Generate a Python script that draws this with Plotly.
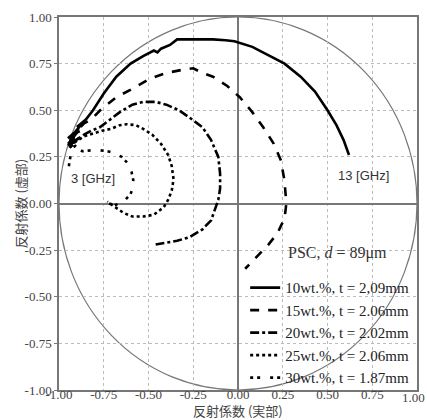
import plotly.graph_objects as go

# ---- data ----
labels = ["10wt.%, t = 2,09mm", "15wt.%, t = 2.06mm", "20wt.%, t = 2.02mm",
          "25wt.%, t = 2.06mm", "30wt.%, t = 1.87mm"]

re_10 = [-0.94, -0.90, -0.95, -0.89, -0.93, -0.87, -0.90, -0.85, -0.81, -0.75, -0.68, -0.60, -0.53, -0.47, -0.45, -0.43, -0.38, -0.34, -0.25, -0.14, -0.07, -0.02, 0.08, 0.16, 0.26, 0.35, 0.43, 0.50, 0.55, 0.59, 0.62]
im_10 = [0.33, 0.38, 0.35, 0.40, 0.36, 0.43, 0.41, 0.45, 0.50, 0.59, 0.68, 0.75, 0.79, 0.82, 0.81, 0.83, 0.85, 0.88, 0.88, 0.88, 0.875, 0.87, 0.84, 0.80, 0.75, 0.68, 0.60, 0.50, 0.42, 0.34, 0.26]

re_15 = [-0.95, -0.90, -0.94, -0.88, -0.92, -0.86, -0.82, -0.77, -0.68, -0.58, -0.49, -0.40, -0.32, -0.25, -0.20, -0.14, -0.06, 0.01, 0.08, 0.14, 0.20, 0.24, 0.26, 0.27, 0.26, 0.22, 0.17, 0.12, 0.04]
im_15 = [0.31, 0.36, 0.34, 0.39, 0.37, 0.43, 0.45, 0.50, 0.57, 0.62, 0.67, 0.70, 0.715, 0.725, 0.70, 0.68, 0.63, 0.57, 0.49, 0.41, 0.32, 0.23, 0.12, 0.00, -0.08, -0.16, -0.22, -0.27, -0.35]

re_20 = [-0.95, -0.91, -0.94, -0.89, -0.92, -0.86, -0.82, -0.77, -0.66, -0.59, -0.53, -0.46, -0.40, -0.33, -0.27, -0.20, -0.15, -0.11, -0.10, -0.10, -0.11, -0.15, -0.20, -0.27, -0.34, -0.40, -0.46]
im_20 = [0.32, 0.36, 0.30, 0.35, 0.33, 0.37, 0.39, 0.41, 0.49, 0.53, 0.545, 0.545, 0.53, 0.50, 0.46, 0.41, 0.34, 0.25, 0.16, 0.08, 0.02, -0.09, -0.14, -0.18, -0.20, -0.21, -0.22]

re_25 = [-0.94, -0.90, -0.93, -0.89, -0.91, -0.86, -0.81, -0.76, -0.71, -0.66, -0.62, -0.57, -0.53, -0.48, -0.43, -0.39, -0.37, -0.36, -0.37, -0.39, -0.415, -0.47, -0.53, -0.59, -0.64, -0.70, -0.73]
im_25 = [0.30, 0.34, 0.32, 0.35, 0.33, 0.36, 0.375, 0.39, 0.40, 0.42, 0.425, 0.42, 0.40, 0.37, 0.32, 0.26, 0.20, 0.13, 0.07, 0.02, -0.02, -0.06, -0.07, -0.07, -0.05, -0.01, 0.01]

re_30 = [-0.945, -0.94, -0.93, -0.91, -0.93, -0.90, -0.87, -0.82, -0.77, -0.73, -0.69, -0.65, -0.62, -0.595, -0.585, -0.59, -0.60, -0.62, -0.64, -0.69, -0.72]
im_30 = [0.20, 0.24, 0.29, 0.31, 0.33, 0.30, 0.28, 0.285, 0.285, 0.28, 0.27, 0.25, 0.22, 0.17, 0.125, 0.08, 0.05, 0.03, 0.01, -0.01, 0.00]

dashes = ["solid", "dash", "dashdot", "dot", "3px,4px,3px,10px"]
xs = [re_10, re_15, re_20, re_25, re_30]
ys = [im_10, im_15, im_20, im_25, im_30]

ticks = [-1.0, -0.75, -0.5, -0.25, 0.0, 0.25, 0.5, 0.75, 1.0]
tick_text = ["-1.00", "-0.75", "-0.50", "-0.25", "0.00", "0.25", "0.50", "0.75", "1.00"]

x_title = "反射係数 (実部)"
y_title = "反射係数 (虚部)"

fig = go.Figure()
for x, y, name, d in zip(xs, ys, labels, dashes):
    fig.add_trace(go.Scatter(x=x, y=y, mode="lines", name=name,
                             line=dict(color="black", width=2.6, dash=d)))

# unit circle
fig.add_shape(type="circle", xref="x", yref="y", x0=-1, y0=-1, x1=1, y1=1,
              line=dict(color="#777777", width=1.2), layer="below")

serif = "Liberation Serif, Times New Roman, serif"
cjk = "Noto Sans CJK JP"
tick_font = dict(family=serif, size=13, color="#444444")

axis_common = dict(
    range=[-1, 1], tickvals=ticks, ticktext=tick_text, automargin=False,
    showgrid=True, gridcolor="#bbbbbb", griddash="dot", gridwidth=1,
    zeroline=True, zerolinecolor="#777777", zerolinewidth=1.6,
    showline=True, linecolor="#777777", linewidth=1.5, mirror=True,
    tickfont=tick_font,
)
fig.update_xaxes(**axis_common, ticks="", ticklabelstandoff=-8)
fig.update_yaxes(**axis_common, ticks="outside", ticklen=3, tickcolor="#777777")

# last x tick label (hidden by plotly at the page edge)
fig.add_annotation(x=ticks[-1], y=0, xref="x", yref="paper", yshift=-7, xshift=-4, yanchor="middle",
                   text=tick_text[-1], showarrow=False, font=tick_font)

# axis titles as annotations
fig.add_annotation(x=0.5, y=0, xref="paper", yref="paper", yshift=-20, yanchor="middle",
                   text=x_title, showarrow=False,
                   font=dict(family=cjk, size=13, color="#444444"))
fig.add_annotation(x=0, y=0.5, xref="paper", yref="paper", xshift=-39, xanchor="center",
                   text=y_title, textangle=-90, showarrow=False,
                   font=dict(family=cjk, size=13, color="#444444"))

fig.add_annotation(x=-0.945, y=0.135, xref="x", yref="y", text="3 [GHz]", showarrow=False,
                   xanchor="left", font=dict(family="Liberation Sans, Arial", size=13, color="#333333"))
fig.add_annotation(x=0.55, y=0.15, xref="x", yref="y", text="13 [GHz]", showarrow=False,
                   xanchor="left", font=dict(family="Liberation Sans, Arial", size=13, color="#333333"))
fig.add_annotation(x=0.27, y=-0.265, xref="x", yref="y", text="PSC, <i>d</i> = 89μm", showarrow=False,
                   xanchor="left", font=dict(family=serif, size=16, color="#333333"))

fig.update_layout(
    width=427, height=420,
    margin=dict(l=59, r=10, t=17, b=30),
    plot_bgcolor="white", paper_bgcolor="white",
    legend=dict(x=0.52, y=0.318, xanchor="left", yanchor="top",
                bgcolor="rgba(0,0,0,0)", borderwidth=0,
                font=dict(family=serif, size=15, color="#222222"),
                tracegroupgap=0, itemwidth=30),
    showlegend=True,
)

fig.write_html("out.html")
